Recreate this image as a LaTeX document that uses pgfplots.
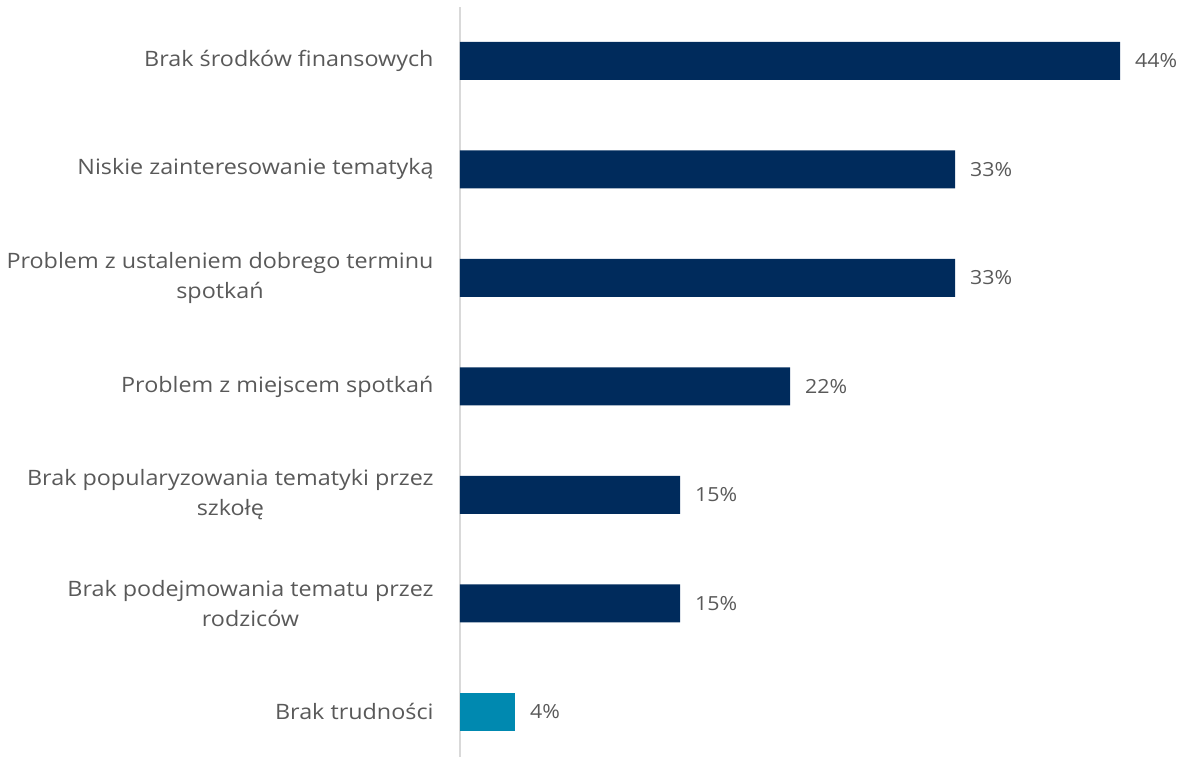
\documentclass[border=0pt]{standalone}
\usepackage{pgfplots}
\pgfplotsset{compat=1.18}
\usepackage{fontspec}
\setmainfont{Open Sans}
\newfontfamily\labfont[FakeStretch=1.1]{Open Sans}
\definecolor{navy}{RGB}{0,43,92}
\definecolor{teal}{RGB}{0,137,176}
\definecolor{txt}{RGB}{89,89,89}
\definecolor{axisgray}{RGB}{217,217,217}
\begin{document}
\begin{tikzpicture}
\useasboundingbox (0,0) rectangle (1180bp,757bp);
\begin{axis}[
    at={(460bp,0bp)}, anchor=south west,
    scale only axis,
    width=660bp, height=750.3bp,
    xbar, bar width=38bp,
    xmin=0, xmax=44.4,
    ymin=-0.415, ymax=6.5,
    axis x line=none,
    axis y line*=left,
    y axis line style={draw=axisgray, line width=1.2pt},
    ytick={0,...,6},
    yticklabels={Brak trudności,
        {Brak podejmowania tematu przez\\rodziców},
        {Brak popularyzowania tematyki przez\\szkołę},
        Problem z miejscem spotkań,
        {Problem z ustaleniem dobrego terminu\\spotkań},
        Niskie zainteresowanie tematyką,
        Brak środków finansowych},
    ytick style={draw=none},
    yticklabel style={align=center, font=\labfont\fontsize{21.3}{30}\selectfont, text=txt, inner sep=0pt, xshift=-22bp},
    nodes near coords={\pgfmathprintnumber[fixed,precision=0,assume math mode=true]{\pgfplotspointmeta}\%},
    nodes near coords style={font=\labfont\fontsize{19.5}{24}\selectfont, text=txt, anchor=west, inner sep=0pt, xshift=15bp},
    point meta=x,
    clip=false,
]
\addplot[fill=navy, draw=none, bar shift=0pt] coordinates {
    (44.4,6) (33.3,5) (33.3,4) (22.2,3) (14.8,2) (14.8,1)
};
\addplot[fill=teal, draw=none, bar shift=0pt] coordinates {
    (3.7,0)
};
\end{axis}
\end{tikzpicture}
\end{document}
